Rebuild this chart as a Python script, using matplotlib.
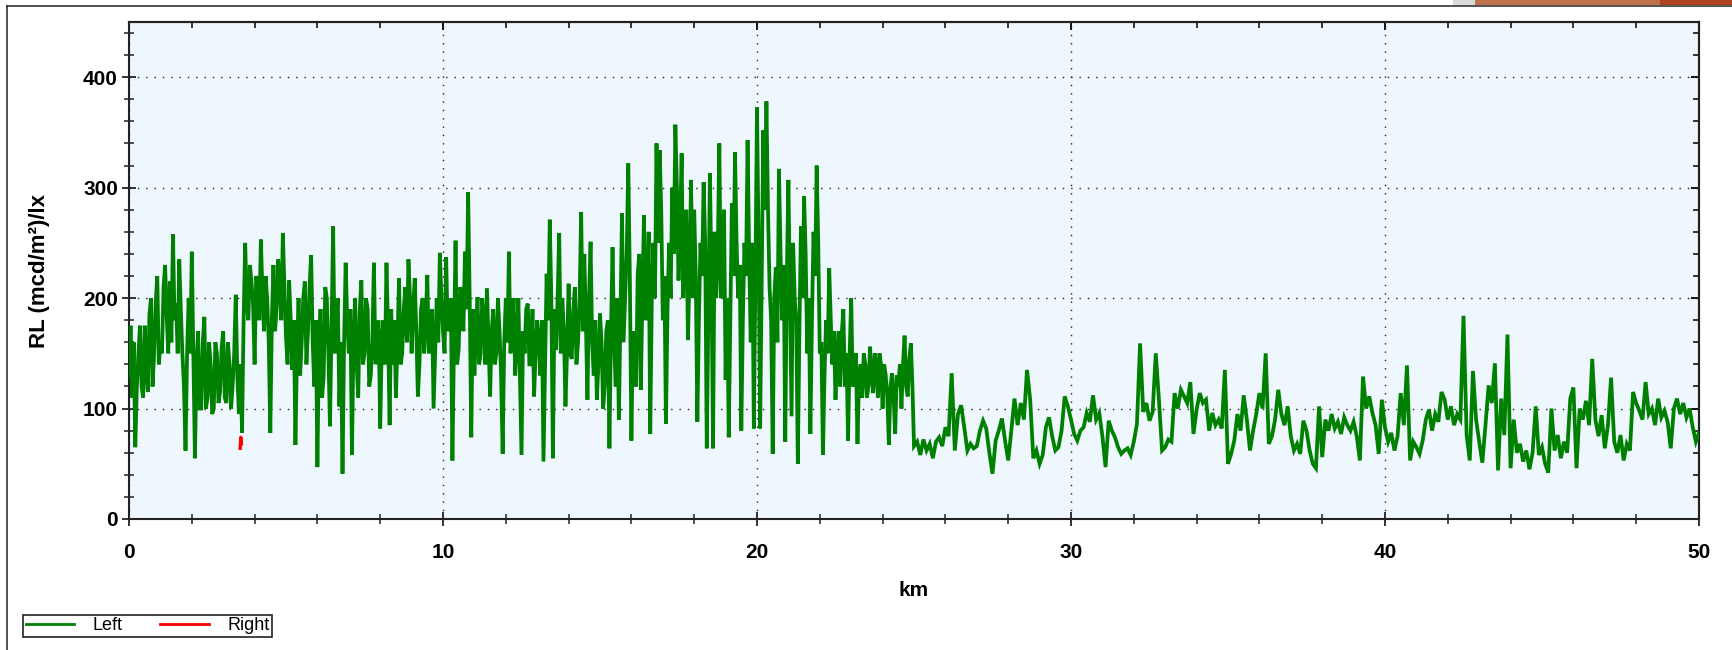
import numpy as np
import matplotlib
matplotlib.use("Agg")
import matplotlib.pyplot as plt
from matplotlib.ticker import MultipleLocator
from matplotlib.patches import Rectangle
from matplotlib.lines import Line2D

# RL readings of the left lane, one value every 0.1 km
left_0_10 = [
    130, 110, 65, 150, 120, 175, 115, 200, 150, 220,
    160, 210, 185, 215, 258, 195, 235, 150, 62, 200,
    242, 55, 170, 100, 183, 110, 140, 100, 150, 115,
    170, 105, 140, 120, 203, 95, 78, 250, 180, 215,
    140, 210, 253, 170, 200, 78, 230, 190, 215, 259,
    165, 216, 135, 67, 200, 160, 215, 170, 239, 120,
    47, 190, 130, 200, 84, 265, 180, 102, 41, 232,
    150, 58, 200, 110, 216, 150, 190, 130, 232, 160,
    82, 180, 232, 85, 140, 110, 218, 150, 210, 235,
    150, 218, 111, 190, 150, 221, 160, 100, 200, 241,
]
left_10_20 = [
    170, 237, 180, 53, 252, 154, 200, 242, 296, 74,
    130, 201, 150, 180, 209, 111, 190, 150, 170, 59,
    200, 242, 180, 130, 200, 58, 150, 195, 140, 111,
    180, 130, 52, 222, 271, 55, 153, 259, 200, 102,
    213, 145, 210, 160, 278, 240, 108, 251, 130, 108,
    186, 100, 170, 64, 246, 120, 90, 277, 200, 322,
    71, 150, 221, 117, 275, 200, 77, 250, 340, 334,
    180, 86, 250, 300, 357, 216, 331, 250, 162, 307,
    280, 88, 250, 305, 64, 313, 64, 200, 340, 250,
    126, 74, 286, 332, 200, 80, 250, 343, 160, 82,
]
left_20_30 = [
    373, 82, 352, 378, 210, 59, 228, 317, 180, 70,
    307, 93, 200, 50, 265, 292, 150, 77, 260, 320,
    150, 58, 180, 227, 140, 108, 170, 168, 120, 71,
    200, 130, 68, 140, 150, 110, 156, 114, 140, 150,
    100, 130, 67, 132, 77, 120, 100, 166, 111, 159,
    66, 70, 58, 72, 62, 68, 55, 70, 74, 66,
    83, 75, 132, 62, 95, 103, 83, 62, 68, 64,
    66, 80, 89, 82, 60, 41, 71, 80, 91, 71,
    53, 80, 109, 85, 105, 90, 135, 108, 55, 62,
    50, 58, 83, 92, 75, 62, 65, 80, 111, 102,
]
left_30_40 = [
    90, 77, 71, 80, 83, 96, 88, 112, 90, 96,
    75, 47, 89, 80, 74, 65, 59, 62, 64, 58,
    70, 86, 159, 97, 105, 89, 97, 150, 108, 62,
    65, 72, 70, 114, 100, 117, 111, 105, 124, 77,
    99, 114, 105, 108, 80, 96, 85, 90, 82, 135,
    50, 59, 71, 95, 80, 112, 90, 62, 80, 95,
    114, 100, 150, 68, 75, 90, 117, 95, 85, 102,
    75, 62, 68, 59, 89, 80, 62, 50, 46, 102,
    56, 90, 80, 95, 82, 88, 77, 92, 85, 80,
    88, 75, 53, 129, 100, 111, 96, 85, 59, 108,
]
left_40_50 = [
    83, 70, 78, 62, 75, 114, 85, 139, 53, 70,
    65, 59, 71, 90, 99, 80, 95, 88, 115, 108,
    90, 102, 85, 95, 90, 184, 76, 53, 134, 90,
    70, 51, 85, 121, 105, 141, 44, 109, 76, 167,
    46, 90, 60, 68, 52, 62, 45, 60, 102, 58,
    65, 50, 42, 100, 62, 76, 55, 70, 60, 109,
    119, 46, 100, 90, 107, 85, 145, 90, 75, 94,
    64, 85, 128, 70, 60, 76, 53, 68, 62, 115,
    105, 98, 90, 124, 95, 100, 85, 109, 92, 98,
    88, 64, 100, 109, 95, 105, 92, 100, 83, 70,
    78,
]

# extra readings in the dense first 25 km, at 0.05, 0.15, ... km
# (the signal keeps swinging across the solid body of the band)
left_mid_0_25 = [
    175, 160, 120, 175, 110, 135, 185, 120, 195, 140,
    150, 230, 150, 160, 180, 150, 190, 120, 150, 150,
    150, 140, 100, 160, 100, 160, 95, 160, 105, 155,
    110, 160, 100, 150, 130, 140, 180, 195, 230, 195,
    220, 180, 205, 220, 160, 180, 170, 235, 180, 210,
    140, 180, 180, 150, 130, 200, 140, 210, 160, 180,
    160, 110, 210, 150, 170, 150, 200, 160, 160, 180,
    190, 160, 140, 190, 140, 200, 120, 160, 140, 180,
    160, 140, 170, 190, 180, 160, 140, 190, 160, 200,
    190, 170, 140, 200, 180, 150, 190, 150, 160, 200,
    150, 170, 200, 160, 140, 210, 170, 190, 200, 190,
    170, 140, 200, 140, 160, 170, 140, 200, 130, 160,
    160, 150, 200, 160, 130, 170, 190, 140, 190, 150,
    160, 180, 140, 180, 200, 190, 200, 150, 170, 150,
    150, 190, 140, 200, 170, 180, 200, 160, 180, 140,
    160, 120, 180, 170, 160, 200, 180, 160, 240, 220,
    170, 120, 240, 200, 180, 260, 200, 200, 250, 280,
    220, 190, 200, 240, 300, 260, 200, 280, 220, 200,
    220, 180, 220, 250, 180, 220, 260, 240, 200, 280,
    200, 180, 220, 250, 230, 180, 220, 240, 250, 220,
    250, 220, 280, 280, 180, 200, 160, 240, 230, 220,
    200, 250, 180, 170, 200, 240, 200, 180, 220, 250,
    160, 130, 150, 180, 170, 150, 120, 190, 150, 150,
    120, 150, 130, 110, 140, 120, 130, 150, 110, 140,
    140, 110, 120, 110, 130, 140, 140, 120, 145, 120,
]

# right lane: only a tiny piece near 3.5 km
right_km = [3.54, 3.56, 3.58]
right_rl = [64, 74, 68]

main_rl = left_0_10 + left_10_20 + left_20_30 + left_30_40 + left_40_50
main_km = np.arange(len(main_rl)) * 0.1
mid_km = 0.05 + np.arange(len(left_mid_0_25)) * 0.1
order = np.argsort(np.concatenate([main_km, mid_km]), kind='stable')
left_km = np.concatenate([main_km, mid_km])[order]
left_rl = np.concatenate([main_rl, left_mid_0_25])[order]

plt.rcParams['font.family'] = ['Liberation Sans', 'DejaVu Sans']
plt.rcParams['font.weight'] = 'bold'

W, H = 1732, 650
fig = plt.figure(figsize=(W / 100, H / 100), dpi=100)
fig.patch.set_facecolor('white')

# axes box in pixels: left 129, right 1699, top 22, bottom 519
ax = fig.add_axes([129 / W, (H - 519) / H, 1570 / W, 497 / H])
ax.set_facecolor('#eef6fe')

ax.plot(left_km, left_rl, color='#008000', lw=2.7, solid_joinstyle='miter',
        label='Left', zorder=3)
ax.plot(right_km, right_rl, color='#ff0000', lw=2.4, label='Right', zorder=4)

ax.set_xlim(0, 50)
ax.set_ylim(0, 450)
ax.xaxis.set_major_locator(MultipleLocator(10))
ax.xaxis.set_minor_locator(MultipleLocator(2))
ax.yaxis.set_minor_locator(MultipleLocator(20))
ax.set_yticks([0, 100, 200, 300, 400])

ax.grid(True, which='major', color='#222222', linestyle=(0, (1, 5)), linewidth=1.0, zorder=1)
ax.set_axisbelow(True)

for sp in ax.spines.values():
    sp.set_linewidth(1.5)
    sp.set_color('#222222')

ax.tick_params(axis='both', which='major', direction='inout', length=10, width=1.3,
               labelsize=15, colors='#222222', labelcolor='black')
ax.tick_params(axis='both', which='minor', direction='inout', length=7, width=1.1,
               colors='#222222')
ax.tick_params(axis='x', which='major', pad=12)
ax.tick_params(axis='y', which='major', pad=3)

# inward ticks on top and right
top = ax.secondary_xaxis('top')
top.xaxis.set_major_locator(MultipleLocator(10))
top.xaxis.set_minor_locator(MultipleLocator(2))
top.tick_params(which='major', direction='in', length=6, width=1.3, labeltop=False)
top.tick_params(which='minor', direction='in', length=4, width=1.1)
top.spines['top'].set_linewidth(1.5)
right = ax.secondary_yaxis('right')
right.yaxis.set_major_locator(MultipleLocator(100))
right.yaxis.set_minor_locator(MultipleLocator(20))
right.tick_params(which='major', direction='in', length=6, width=1.3, labelright=False)
right.tick_params(which='minor', direction='in', length=4, width=1.1)
right.spines['right'].set_linewidth(1.5)

ax.set_xlabel('km', fontsize=15, fontweight='bold', va='center')
ax.xaxis.set_label_coords(0.5, (519 - 591) / 497)
ax.set_ylabel('RL (mcd/m²)/lx', fontsize=16, fontweight='bold', va='center')
ax.yaxis.set_label_coords((40 - 129) / 1570, 0.5)

leg = fig.legend(loc='lower left', bbox_to_anchor=(23 / W, (H - 637) / H), ncol=2,
                 frameon=True, fancybox=False, edgecolor='#222222', framealpha=1,
                 borderaxespad=0, borderpad=0.15, handlelength=2.7, handletextpad=1.0,
                 columnspacing=2.1, prop={'size': 13, 'weight': 'normal'})
leg.get_frame().set_linewidth(1.2)
for h in leg.get_lines():
    h.set_linewidth(2.0)

# outer frame of the exported picture
fig.add_artist(Line2D([7.5 / W, 7.5 / W], [0, (H - 6) / H], transform=fig.transFigure,
                      color='#222222', lw=1.1))
fig.add_artist(Line2D([7.5 / W, 1], [(H - 6) / H, (H - 6) / H], transform=fig.transFigure,
                      color='#222222', lw=1.1))
# slide decoration at the top right corner
fig.add_artist(Rectangle((1453 / W, (H - 5) / H), 22 / W, 5 / H, transform=fig.transFigure,
                         color='#d9d9d9', lw=0))
fig.add_artist(Rectangle((1475 / W, (H - 5) / H), 185 / W, 5 / H, transform=fig.transFigure,
                         color='#c0724b', lw=0))
fig.add_artist(Rectangle((1660 / W, (H - 5) / H), 72 / W, 5 / H, transform=fig.transFigure,
                         color='#b0421f', lw=0))

fig.savefig('out.png', dpi=100)
